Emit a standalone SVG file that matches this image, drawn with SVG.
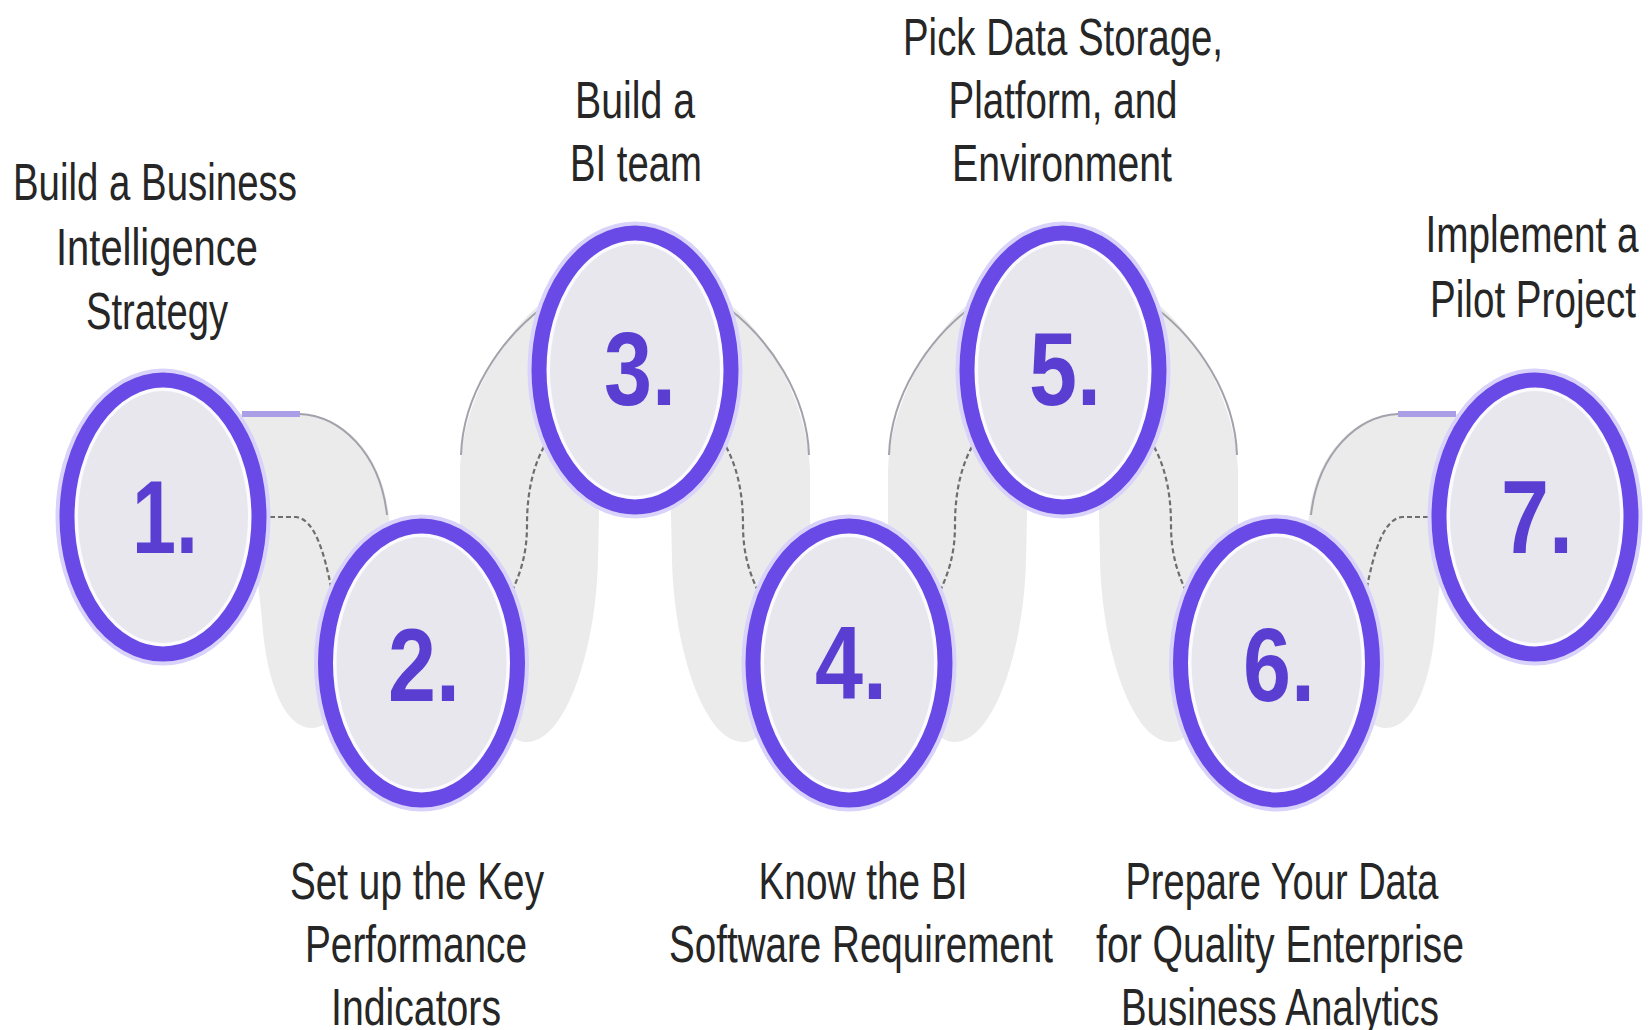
<svg xmlns="http://www.w3.org/2000/svg" width="1650" height="1030" viewBox="0 0 1650 1030">
<style>
.leg{fill:#ebebeb;stroke:none}
.edge{fill:none;stroke:#a2a2ab;stroke-width:2}
.stub{stroke:#aa9fe6;stroke-width:6;stroke-linecap:butt}
.dash{fill:none;stroke:#6e6e6e;stroke-width:2.2;stroke-dasharray:5 3}
.halo{fill:none;stroke:#d9d2fa;stroke-width:21}
.ring{fill:#fbfaff;stroke:#6a4ae6;stroke-width:15}
.core{fill:#e8e7ee}
.num{font-family:"Liberation Sans",Arial,sans-serif;font-weight:bold;font-size:103px;fill:#5a3ed2;text-anchor:middle}
.lbl{font-family:"Liberation Sans",Arial,sans-serif;font-size:52px;fill:#262626;text-anchor:middle}
</style>
<rect width="1650" height="1030" fill="#ffffff"/>

<g id="ribbon">
  <path class="leg" d="M 240 414 L 300 414 C 345 414, 388 458, 390 530 C 392 620, 350 728, 312 728 C 284 728, 266 680, 262 620 Z"/>
  <path class="leg" d="M 600 470 L 598 560 C 596 650, 566 740, 528 742 C 492 744, 462 650, 460 560 L 460 470 C 462 410, 495 340, 545 300 L 600 300 Z"/>
  <path class="leg" d="M 670 470 L 672 560 C 674 650, 704 740, 742 742 C 778 744, 808 650, 810 560 L 810 470 C 808 410, 775 340, 725 300 L 670 300 Z"/>
  <path class="leg" d="M 1028 470 L 1026 560 C 1024 650, 994 740, 956 742 C 920 744, 890 650, 888 560 L 888 470 C 890 410, 923 340, 973 300 L 1028 300 Z"/>
  <path class="leg" d="M 1098 470 L 1100 560 C 1102 650, 1132 740, 1170 742 C 1206 744, 1236 650, 1238 560 L 1238 470 C 1236 410, 1203 340, 1153 300 L 1098 300 Z"/>
  <path class="leg" d="M 1458 414 L 1398 414 C 1353 414, 1310 458, 1308 530 C 1306 620, 1348 728, 1386 728 C 1414 728, 1432 680, 1436 620 Z"/>
  <path class="edge" d="M 300 414 C 340 416, 380 452, 387 515"/>
  <path class="edge" d="M 542 308 C 500 340, 463 395, 461 455"/>
  <path class="edge" d="M 728 308 C 770 340, 807 395, 809 455"/>
  <path class="edge" d="M 970 308 C 928 340, 891 395, 889 455"/>
  <path class="edge" d="M 1156 308 C 1198 340, 1235 395, 1237 455"/>
  <path class="edge" d="M 1398 414 C 1358 416, 1318 452, 1311 515"/>
  <line class="stub" x1="242" y1="414" x2="300" y2="414"/>
  <line class="stub" x1="1398" y1="414" x2="1456" y2="414"/>
</g>

<g id="connectors">
  <path class="dash" d="M 262 517 L 296 517 C 314 519, 324 550, 332 592"/>
  <path class="dash" d="M 548 440 C 532 465, 527 495, 527 525 C 527 555, 520 575, 510 595"/>
  <path class="dash" d="M 722 440 C 738 465, 743 495, 743 525 C 743 555, 750 575, 760 595"/>
  <path class="dash" d="M 976 440 C 960 465, 955 495, 955 525 C 955 555, 948 575, 938 595"/>
  <path class="dash" d="M 1150 440 C 1166 465, 1171 495, 1171 525 C 1171 555, 1178 575, 1188 595"/>
  <path class="dash" d="M 1436 517 L 1402 517 C 1384 519, 1374 550, 1366 592"/>
</g>

<g id="node1">
  <ellipse class="halo" cx="163" cy="517" rx="97" ry="138"/>
  <ellipse class="ring" cx="163" cy="517" rx="96" ry="137"/>
  <ellipse class="core" cx="163" cy="517" rx="85" ry="126"/>
  <text class="num" x="165" y="553" textLength="66" lengthAdjust="spacingAndGlyphs">1.</text>
  <text class="lbl" x="155" y="200" textLength="284" lengthAdjust="spacingAndGlyphs">Build a Business</text>
  <text class="lbl" x="157" y="265" textLength="202" lengthAdjust="spacingAndGlyphs">Intelligence</text>
  <text class="lbl" x="157" y="329" textLength="142" lengthAdjust="spacingAndGlyphs">Strategy</text>
</g>

<g id="node2">
  <ellipse class="halo" cx="421.5" cy="663" rx="97" ry="138"/>
  <ellipse class="ring" cx="421.5" cy="663" rx="96" ry="137"/>
  <ellipse class="core" cx="421.5" cy="663" rx="85" ry="126"/>
  <text class="num" x="424" y="701" textLength="72" lengthAdjust="spacingAndGlyphs">2.</text>
  <text class="lbl" x="417" y="899" textLength="254" lengthAdjust="spacingAndGlyphs">Set up the Key</text>
  <text class="lbl" x="416" y="962" textLength="222" lengthAdjust="spacingAndGlyphs">Performance</text>
  <text class="lbl" x="416" y="1025" textLength="170" lengthAdjust="spacingAndGlyphs">Indicators</text>
</g>

<g id="node3">
  <ellipse class="halo" cx="635" cy="370" rx="97" ry="138"/>
  <ellipse class="ring" cx="635" cy="370" rx="96" ry="137"/>
  <ellipse class="core" cx="635" cy="370" rx="85" ry="126"/>
  <text class="num" x="640" y="405" textLength="72" lengthAdjust="spacingAndGlyphs">3.</text>
  <text class="lbl" x="635" y="118" textLength="120" lengthAdjust="spacingAndGlyphs">Build a</text>
  <text class="lbl" x="636" y="181" textLength="132" lengthAdjust="spacingAndGlyphs">BI team</text>
</g>

<g id="node4">
  <ellipse class="halo" cx="849" cy="663" rx="97" ry="138"/>
  <ellipse class="ring" cx="849" cy="663" rx="96" ry="137"/>
  <ellipse class="core" cx="849" cy="663" rx="85" ry="126"/>
  <text class="num" x="851" y="699" textLength="72" lengthAdjust="spacingAndGlyphs">4.</text>
  <text class="lbl" x="863" y="899" textLength="209" lengthAdjust="spacingAndGlyphs">Know the BI</text>
  <text class="lbl" x="861" y="962" textLength="384" lengthAdjust="spacingAndGlyphs">Software Requirement</text>
</g>

<g id="node5">
  <ellipse class="halo" cx="1063" cy="370" rx="97" ry="138"/>
  <ellipse class="ring" cx="1063" cy="370" rx="96" ry="137"/>
  <ellipse class="core" cx="1063" cy="370" rx="85" ry="126"/>
  <text class="num" x="1065" y="405" textLength="72" lengthAdjust="spacingAndGlyphs">5.</text>
  <text class="lbl" x="1063" y="55" textLength="320" lengthAdjust="spacingAndGlyphs">Pick Data Storage,</text>
  <text class="lbl" x="1063" y="118" textLength="229" lengthAdjust="spacingAndGlyphs">Platform, and</text>
  <text class="lbl" x="1062" y="181" textLength="220" lengthAdjust="spacingAndGlyphs">Environment</text>
</g>

<g id="node6">
  <ellipse class="halo" cx="1276.5" cy="663" rx="97" ry="138"/>
  <ellipse class="ring" cx="1276.5" cy="663" rx="96" ry="137"/>
  <ellipse class="core" cx="1276.5" cy="663" rx="85" ry="126"/>
  <text class="num" x="1279" y="701" textLength="72" lengthAdjust="spacingAndGlyphs">6.</text>
  <text class="lbl" x="1282" y="899" textLength="313" lengthAdjust="spacingAndGlyphs">Prepare Your Data</text>
  <text class="lbl" x="1280" y="962" textLength="368" lengthAdjust="spacingAndGlyphs">for Quality Enterprise</text>
  <text class="lbl" x="1280" y="1025" textLength="318" lengthAdjust="spacingAndGlyphs">Business Analytics</text>
</g>

<g id="node7">
  <ellipse class="halo" cx="1535" cy="517" rx="97" ry="138"/>
  <ellipse class="ring" cx="1535" cy="517" rx="96" ry="137"/>
  <ellipse class="core" cx="1535" cy="517" rx="85" ry="126"/>
  <text class="num" x="1537" y="553" textLength="72" lengthAdjust="spacingAndGlyphs">7.</text>
  <text class="lbl" x="1532" y="252" textLength="213" lengthAdjust="spacingAndGlyphs">Implement a</text>
  <text class="lbl" x="1533" y="317" textLength="206" lengthAdjust="spacingAndGlyphs">Pilot Project</text>
</g>
</svg>
